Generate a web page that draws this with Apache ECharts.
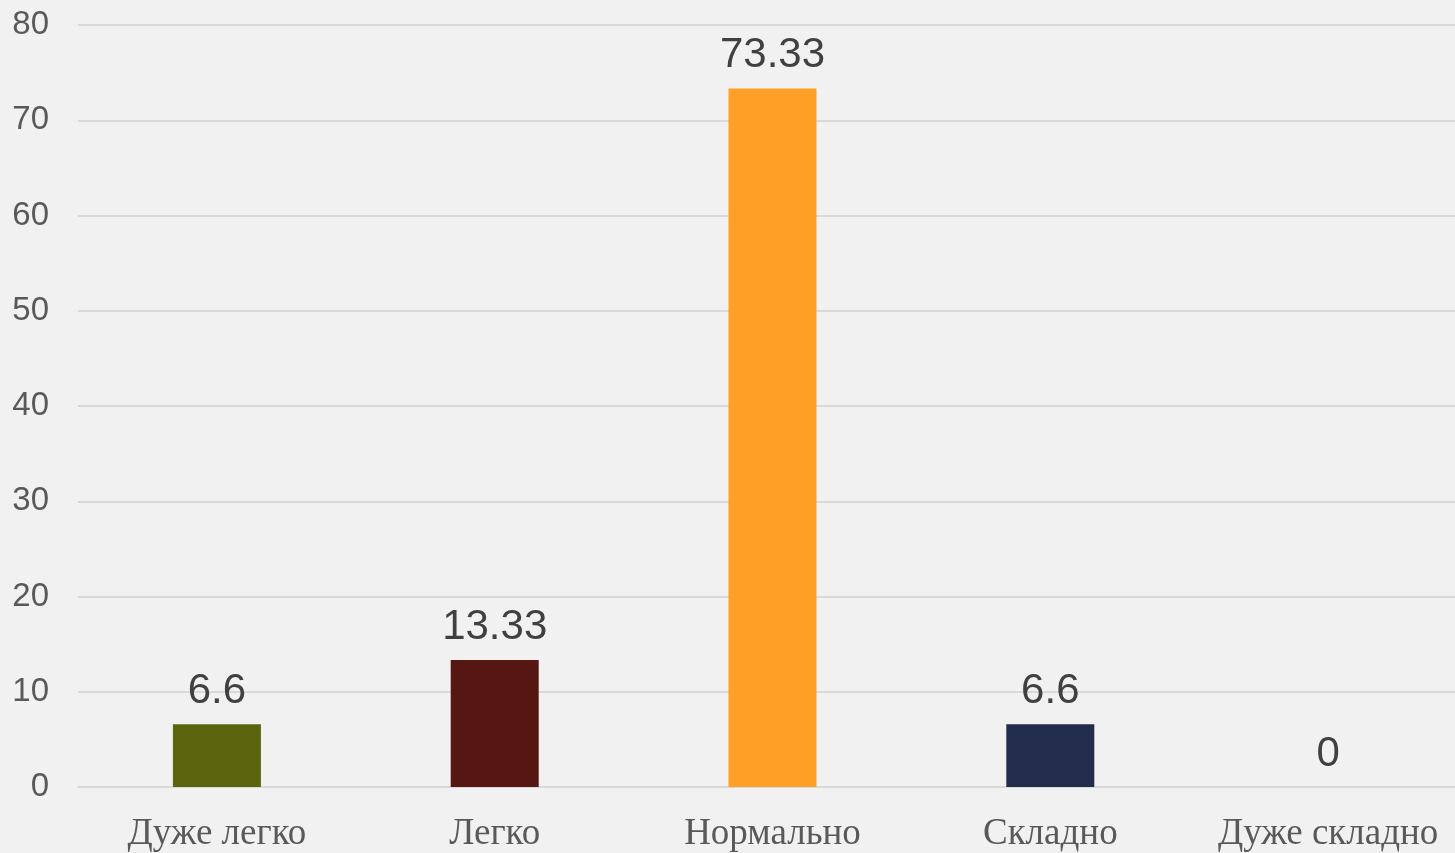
<!DOCTYPE html>
<html>
<head>
<meta charset="utf-8">
<script src="https://cdn.jsdelivr.net/npm/echarts@6/dist/echarts.min.js"></script>
<style>
  html, body { margin: 0; padding: 0; background: #f1f1f1; overflow: hidden; }
  #chart { width: 1467px; height: 853px; }
</style>
</head>
<body>
<div id="chart"></div>
<script>
const categories = ['Дуже легко', 'Легко', 'Нормально', 'Складно', 'Дуже складно']
const values = [6.6, 13.33, 73.33, 6.6, 0]
const barColors = ['#5c640e', '#561612', '#ffa026', '#222c4b', '#888888']
const yTicks = { min: 0, max: 80, interval: 10 }

const chart = echarts.init(document.getElementById('chart'))
const options = {
  backgroundColor: '#f1f1f1',
  animation: false,
  grid: {
    top: 25,
    left: 78,
    right: 0,
    bottom: 66
  },
  xAxis: {
    type: 'category',
    data: categories,
    axisTick: { show: false },
    axisLine: { lineStyle: { color: '#d9d9d9', width: 2 } },
    axisLabel: {
      interval: 0,
      fontFamily: 'Liberation Serif',
      fontSize: 37,
      color: '#595959',
      margin: 29
    }
  },
  yAxis: {
    type: 'value',
    min: yTicks.min,
    max: yTicks.max,
    interval: yTicks.interval,
    splitLine: { lineStyle: { color: '#d9d9d9', width: 2 } },
    axisLabel: {
      fontFamily: 'Liberation Sans',
      fontSize: 33,
      color: '#595959',
      margin: 29
    }
  },
  series: [{
    type: 'bar',
    barWidth: 88,
    data: values.map((v, i) => ({ value: v, itemStyle: { color: barColors[i] } })),
    label: {
      show: true,
      position: 'top',
      distance: 12,
      fontFamily: 'Liberation Sans',
      fontSize: 42,
      color: '#404040'
    }
  }]
}
chart.setOption(options)
</script>
</body>
</html>
